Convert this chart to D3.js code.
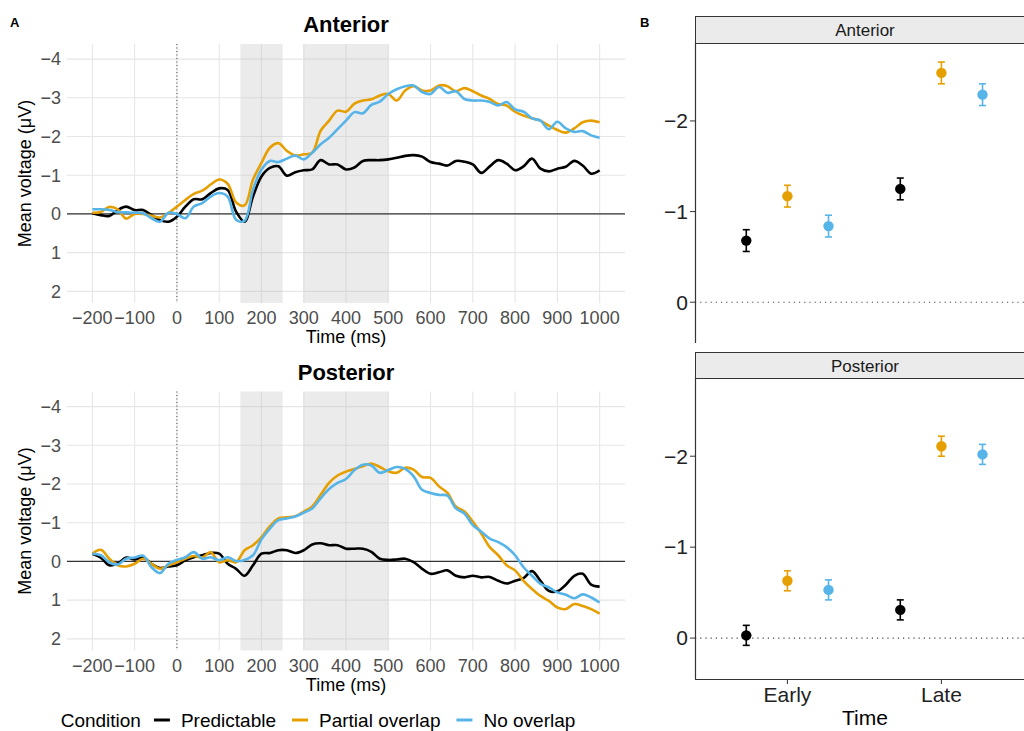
<!DOCTYPE html>
<html>
<head>
<meta charset="utf-8">
<script src="https://cdn.jsdelivr.net/npm/d3@7"></script>
<style>
body { margin: 0; background: #fff; }
svg { display: block; font-family: "Liberation Sans", Arial, Helvetica, sans-serif; }
</style>
</head>
<body>
<svg id="chart" width="1024" height="731"></svg>
<script>
// sample times of the waveforms (ms)
var times = d3.range(-200, 1001, 20);

var conditions = ["Predictable", "Partial overlap", "No overlap"];
var colors = ["#000000", "#E69F00", "#56B4E9"];

// panel A - anterior
var antPredictable = [-0.02, 0.03, 0.05, -0.1, -0.19, -0.1, -0.1, 0.03, 0.16, 0.2, 0.07,
    -0.19, -0.38, -0.38, -0.54, -0.66, -0.62, -0.06, 0.2, -0.45, -0.97,
    -1.19, -1.23, -0.99, -1.08, -1.13, -1.15, -1.39, -1.28, -1.28, -1.15,
    -1.2, -1.37, -1.39, -1.39, -1.41, -1.45, -1.5, -1.52, -1.48, -1.34,
    -1.3, -1.25, -1.37, -1.35, -1.28, -1.06, -1.23, -1.39, -1.3, -1.13,
    -1.23, -1.43, -1.17, -1.1, -1.17, -1.22, -1.37, -1.25, -1.04, -1.13];
var antPartial = [-0.03, -0.05, -0.18, -0.12, 0.12, 0.0, 0.0, 0.05, 0.09, -0.02, -0.19,
    -0.36, -0.52, -0.6, -0.76, -0.89, -0.78, -0.3, -0.22, -0.89, -1.32,
    -1.71, -1.83, -1.63, -1.51, -1.54, -1.58, -2.15, -2.41, -2.67, -2.64,
    -2.85, -2.93, -2.96, -3.06, -3.1, -2.93, -3.19, -3.3, -3.19, -3.19,
    -3.32, -3.3, -3.17, -3.25, -3.17, -3.06, -2.97, -2.84, -2.8, -2.64,
    -2.54, -2.47, -2.41, -2.28, -2.17, -2.1, -2.21, -2.37, -2.41, -2.37];
var antNoOverlap = [-0.12, -0.12, -0.1, -0.05, -0.04, -0.03, -0.02, 0.11, 0.2, -0.03, 0.0,
    0.11, -0.19, -0.28, -0.45, -0.54, -0.45, 0.15, 0.18, -0.63, -1.15,
    -1.37, -1.34, -1.43, -1.51, -1.41, -1.58, -1.8, -1.97, -2.19, -2.41,
    -2.63, -2.6, -2.82, -2.9, -3.1, -3.22, -3.3, -3.32, -3.15, -3.1,
    -3.28, -3.13, -3.17, -2.97, -2.93, -2.93, -2.89, -2.8, -2.89, -2.7,
    -2.64, -2.47, -2.41, -2.19, -2.38, -2.21, -2.12, -2.14, -2.03, -1.97];

// panel A - posterior
var postPredictable = [-0.2, -0.1, 0.1, 0.05, -0.1, -0.05, -0.1, 0.06, 0.17, 0.13, 0.1,
    -0.03, -0.11, -0.16, -0.22, -0.2, 0.06, 0.19, 0.37, 0.1, -0.2,
    -0.22, -0.29, -0.29, -0.22, -0.29, -0.44, -0.47, -0.42, -0.42, -0.33,
    -0.33, -0.33, -0.25, -0.07, -0.04, -0.05, -0.07, 0.02, 0.19, 0.32,
    0.28, 0.23, 0.37, 0.41, 0.37, 0.41, 0.4, 0.5, 0.57, 0.5,
    0.43, 0.25, 0.5, 0.76, 0.77, 0.6, 0.37, 0.32, 0.6, 0.65];
var postPartial = [-0.2, -0.3, -0.07, 0.1, 0.13, 0.06, -0.07, 0.06, 0.19, 0.1, 0.02,
    -0.07, -0.14, -0.1, -0.24, 0.02, -0.03, 0.02, -0.29, -0.42, -0.63,
    -0.91, -1.11, -1.14, -1.17, -1.29, -1.42, -1.72, -2.03, -2.22, -2.32,
    -2.39, -2.46, -2.53, -2.44, -2.33, -2.29, -2.42, -2.37, -2.18, -2.16,
    -1.94, -1.77, -1.42, -1.29, -1.03, -0.72, -0.37, -0.16, 0.1, 0.23,
    0.5, 0.71, 0.89, 1.02, 1.19, 1.23, 1.1, 1.15, 1.23, 1.35];
var postNoOverlap = [-0.2, -0.16, 0.02, 0.08, -0.07, -0.1, -0.15, 0.15, 0.3, 0.06, -0.04,
    -0.11, -0.24, -0.07, -0.11, -0.03, -0.11, -0.01, -0.04, -0.16, -0.57,
    -0.85, -1.07, -1.11, -1.16, -1.26, -1.37, -1.63, -1.87, -2.03, -2.13,
    -2.36, -2.5, -2.48, -2.29, -2.36, -2.44, -2.39, -2.2, -1.85, -1.77,
    -1.72, -1.7, -1.37, -1.24, -0.94, -0.77, -0.59, -0.5, -0.37, -0.16,
    0.15, 0.37, 0.58, 0.67, 0.8, 0.86, 0.95, 0.85, 0.93, 1.06];

var shadeWindows = [[150, 250], [300, 500]];
var erpXTicks = d3.range(-200, 1001, 100);
var erpYTicks = [-4, -3, -2, -1, 0, 1, 2];

// panel B - mean amplitude per window, order as conditions
var windows = ["Early", "Late"];
var antEarly = [-0.68, -1.17, -0.84];
var antLate = [-1.25, -2.53, -2.29];
var antSE = [0.12, 0.12, 0.12];
var postEarly = [-0.03, -0.63, -0.53];
var postLate = [-0.31, -2.11, -2.02];
var postSE = [0.11, 0.11, 0.11];
var effYTicks = [-2, -1, 0];

var svg = d3.select("#chart");
svg.append("rect").attr("width", 1024).attr("height", 731).attr("fill", "#fff");

var ex = d3.scaleLinear().domain([-260, 1060]).range([67, 625]);

function erpPanel(top, title, series)
{
    var bottom = top + 259;
    var y = d3.scaleLinear().domain([-4.39, 2.3]).range([top, bottom]);
    var g = svg.append("g");

    // grid
    g.selectAll(".hg").data(erpYTicks).enter().append("line")
        .attr("x1", 67).attr("x2", 625)
        .attr("y1", function(d){ return y(d); })
        .attr("y2", function(d){ return y(d); })
        .attr("stroke", "#e6e6e6").attr("stroke-width", 1.1);
    g.selectAll(".vg").data(erpXTicks).enter().append("line")
        .attr("x1", function(d){ return ex(d); })
        .attr("x2", function(d){ return ex(d); })
        .attr("y1", top).attr("y2", bottom)
        .attr("stroke", "#e6e6e6").attr("stroke-width", 1.1);

    // analysis windows
    g.selectAll(".shade").data(shadeWindows).enter().append("rect")
        .attr("x", function(d){ return ex(d[0]); })
        .attr("width", function(d){ return ex(d[1]) - ex(d[0]); })
        .attr("y", top).attr("height", bottom - top)
        .attr("fill", "#bdbdbd").attr("opacity", 0.3);

    g.append("line")
        .attr("x1", ex(0)).attr("x2", ex(0))
        .attr("y1", top).attr("y2", bottom)
        .attr("stroke", "#444").attr("stroke-width", 1)
        .attr("stroke-dasharray", "1,2.5");
    g.append("line")
        .attr("x1", 67).attr("x2", 625)
        .attr("y1", y(0)).attr("y2", y(0))
        .attr("stroke", "#333").attr("stroke-width", 1.3);

    var line = d3.line()
        .x(function(d, i){ return ex(times[i]); })
        .y(function(d){ return y(d); })
        .curve(d3.curveCatmullRom.alpha(0.5));

    g.selectAll(".wave").data(series).enter().append("path")
        .attr("d", function(d){ return line(d); })
        .attr("fill", "none")
        .attr("stroke", function(d, i){ return colors[i]; })
        .attr("stroke-width", 2.6)
        .attr("stroke-linejoin", "round");

    // axes text
    var fmt = d3.format("d");
    g.selectAll(".yl").data(erpYTicks).enter().append("text")
        .attr("x", 61).attr("y", function(d){ return y(d); })
        .attr("dy", "0.35em").attr("text-anchor", "end")
        .attr("font-size", 18).attr("fill", "#4d4d4d")
        .text(function(d){ return fmt(d); });
    g.selectAll(".xl").data(erpXTicks).enter().append("text")
        .attr("x", function(d){ return ex(d); }).attr("y", bottom + 21)
        .attr("text-anchor", "middle")
        .attr("font-size", 18).attr("fill", "#4d4d4d")
        .text(function(d){ return fmt(d); });

    g.append("text")
        .attr("x", 346).attr("y", bottom + 40)
        .attr("text-anchor", "middle").attr("font-size", 18).attr("fill", "#000")
        .text("Time (ms)");
    g.append("text")
        .attr("transform", "translate(31," + ((top + bottom) / 2) + ") rotate(-90)")
        .attr("text-anchor", "middle").attr("font-size", 18).attr("fill", "#000")
        .text("Mean voltage (\u03bcV)");
    g.append("text")
        .attr("x", 346).attr("y", top - 12)
        .attr("text-anchor", "middle").attr("font-size", 22)
        .attr("font-weight", "bold").attr("fill", "#000")
        .text(title);
}

erpPanel(44, "Anterior", [antPredictable, antPartial, antNoOverlap]);
erpPanel(391.5, "Posterior", [postPredictable, postPartial, postNoOverlap]);

// legend
var legend = svg.append("g");
var lx = 0;
var ly = 727;
var title = legend.append("text").attr("x", lx).attr("y", ly)
    .attr("font-size", 19).attr("fill", "#000").text("Condition");
lx += title.node().getComputedTextLength() + 13;
conditions.forEach(function(c, i){
    legend.append("line")
        .attr("x1", lx).attr("x2", lx + 16)
        .attr("y1", ly - 7).attr("y2", ly - 7)
        .attr("stroke", colors[i]).attr("stroke-width", 3);
    lx += 27;
    var t = legend.append("text").attr("x", lx).attr("y", ly)
        .attr("font-size", 19).attr("fill", "#000").text(c);
    lx += t.node().getComputedTextLength() + 16;
});
legend.attr("transform", "translate(" + (318 - (lx - 16) / 2) + ",0)");

// panel labels
svg.append("text").attr("x", 10).attr("y", 27)
    .attr("font-size", 13).attr("font-weight", "bold").text("A");
svg.append("text").attr("x", 640).attr("y", 27)
    .attr("font-size", 13).attr("font-weight", "bold").text("B");

// panel B
var bx = d3.scaleLinear().domain([0.4, 2.6]).range([695, 1033.8]);
var dodge = [-0.267, 0, 0.267];

function effectPanel(stripTop, top, bottom, title, early, late, se, showX)
{
    var y = d3.scaleLinear().domain([-2.86, 0.45]).range([top, bottom]);
    var g = svg.append("g");

    g.append("rect")
        .attr("x", 695.5).attr("y", stripTop + 0.5)
        .attr("width", 340).attr("height", top - stripTop)
        .attr("fill", "#ebebeb").attr("stroke", "#333").attr("stroke-width", 1);
    g.append("text")
        .attr("x", 865).attr("y", stripTop + 19.5)
        .attr("text-anchor", "middle").attr("font-size", 17).attr("fill", "#1a1a1a")
        .text(title);

    g.append("line")
        .attr("x1", 695).attr("x2", 1035)
        .attr("y1", y(0)).attr("y2", y(0))
        .attr("stroke", "#444").attr("stroke-width", 1.1)
        .attr("stroke-dasharray", "1.2,4");

    g.append("line")
        .attr("x1", 695.5).attr("x2", 695.5)
        .attr("y1", top).attr("y2", bottom)
        .attr("stroke", "#333").attr("stroke-width", 1.2);
    g.selectAll(".yt").data(effYTicks).enter().append("line")
        .attr("x1", 690).attr("x2", 695)
        .attr("y1", function(d){ return y(d); })
        .attr("y2", function(d){ return y(d); })
        .attr("stroke", "#333");
    g.selectAll(".yl").data(effYTicks).enter().append("text")
        .attr("x", 688).attr("y", function(d){ return y(d); })
        .attr("dy", "0.35em").attr("text-anchor", "end")
        .attr("font-size", 21).attr("fill", "#222")
        .text(function(d){ return d3.format("d")(d); });

    var pts = [];
    [early, late].forEach(function(vals, w){
        vals.forEach(function(v, i){
            pts.push({ x: bx(w + 1 + dodge[i]), v: v, se: se[i], c: colors[i] });
        });
    });

    var p = g.selectAll(".pt").data(pts).enter().append("g");
    p.append("line")
        .attr("x1", function(d){ return d.x; }).attr("x2", function(d){ return d.x; })
        .attr("y1", function(d){ return y(d.v - d.se); })
        .attr("y2", function(d){ return y(d.v + d.se); })
        .attr("stroke", function(d){ return d.c; }).attr("stroke-width", 1.6);
    [-1, 1].forEach(function(s){
        p.append("line")
            .attr("x1", function(d){ return d.x - 3.5; })
            .attr("x2", function(d){ return d.x + 3.5; })
            .attr("y1", function(d){ return y(d.v + s * d.se); })
            .attr("y2", function(d){ return y(d.v + s * d.se); })
            .attr("stroke", function(d){ return d.c; }).attr("stroke-width", 1.6);
    });
    p.append("circle")
        .attr("cx", function(d){ return d.x; })
        .attr("cy", function(d){ return y(d.v); })
        .attr("r", 5.2)
        .attr("fill", function(d){ return d.c; });

    if(showX){
        g.append("line")
            .attr("x1", 695).attr("x2", 1035)
            .attr("y1", bottom + 0.5).attr("y2", bottom + 0.5)
            .attr("stroke", "#333").attr("stroke-width", 1.2);
        g.selectAll(".xt").data(windows).enter().append("line")
            .attr("x1", function(d, i){ return bx(i + 1); })
            .attr("x2", function(d, i){ return bx(i + 1); })
            .attr("y1", bottom).attr("y2", bottom + 5)
            .attr("stroke", "#333");
        g.selectAll(".xl").data(windows).enter().append("text")
            .attr("x", function(d, i){ return bx(i + 1); })
            .attr("y", bottom + 23)
            .attr("text-anchor", "middle").attr("font-size", 21).attr("fill", "#222")
            .text(function(d){ return d; });
        g.append("text")
            .attr("x", 865).attr("y", bottom + 46)
            .attr("text-anchor", "middle").attr("font-size", 21).attr("fill", "#000")
            .text("Time");
    }
}

effectPanel(16, 43, 343, "Anterior", antEarly, antLate, antSE, false);
effectPanel(352, 378, 679, "Posterior", postEarly, postLate, postSE, true);
</script>
</body>
</html>
